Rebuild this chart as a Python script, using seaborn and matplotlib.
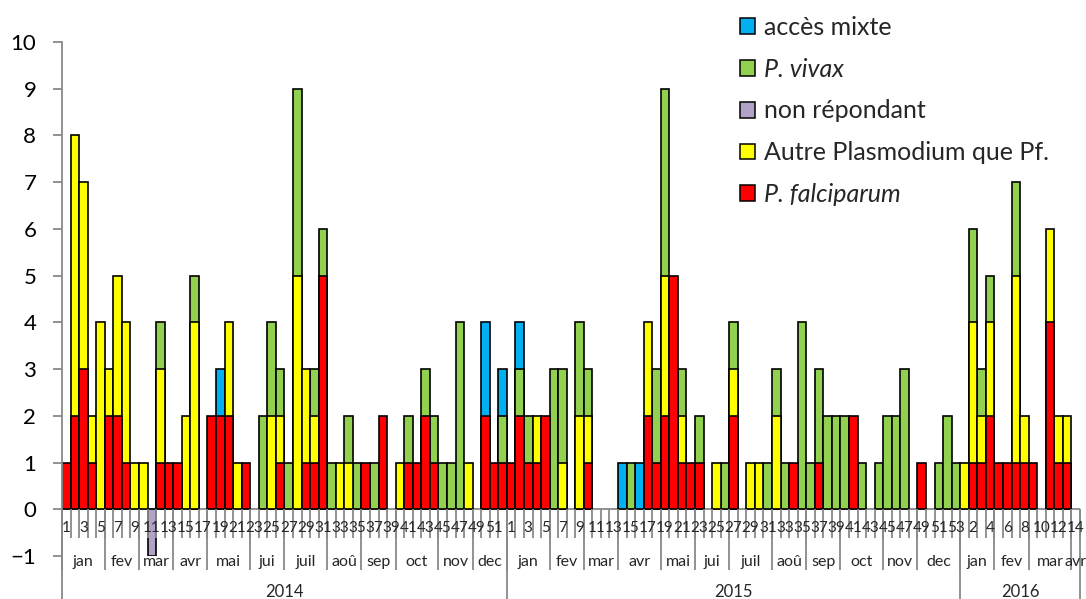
import numpy as np
import matplotlib
matplotlib.use('Agg')
import matplotlib.pyplot as plt
import seaborn as sns
from matplotlib.patches import Patch

# weekly counts: 2014 (52 weeks), 2015 (53 weeks), 2016 (14 weeks)
years = ['2014', '2015', '2016']
weeks_in_year = [52, 53, 14]
month_names = [
    ['jan', 'fev', 'mar', 'avr', 'mai', 'jui', 'juil', 'aoû', 'sep', 'oct', 'nov', 'dec'],
    ['jan', 'fev', 'mar', 'avr', 'mai', 'jui', 'juil', 'aoû', 'sep', 'oct', 'nov', 'dec'],
    ['jan', 'fev', 'mar', 'avr'],
]
month_weeks = [
    [5, 4, 4, 4, 5, 4, 5, 4, 4, 5, 4, 4],
    [5, 4, 4, 5, 4, 4, 5, 4, 4, 5, 4, 5],
    [4, 4, 5, 1],
]

falciparum = [
    1, 2, 3, 1, 0, 2, 2, 1, 0, 0, 0, 1, 1, 1, 0, 0, 0, 2, 2, 2, 0, 1, 0, 0, 0, 1,
    0, 0, 1, 1, 5, 0, 0, 0, 0, 1, 0, 2, 0, 0, 1, 1, 2, 1, 0, 0, 0, 0, 0, 2, 1, 1,
    1, 2, 1, 1, 2, 0, 0, 0, 0, 1, 0, 0, 0, 0, 0, 0, 2, 1, 2, 5, 1, 1, 1, 0, 0, 0,
    2, 0, 0, 0, 0, 0, 0, 1, 0, 0, 1, 0, 0, 0, 2, 0, 0, 0, 0, 0, 0, 0, 1, 0, 0, 0, 0,
    0, 1, 1, 2, 1, 1, 1, 1, 1, 0, 4, 1, 1, 0,
]
autre = [
    0, 6, 4, 1, 4, 1, 3, 3, 1, 1, 0, 2, 0, 0, 2, 4, 0, 0, 0, 2, 1, 0, 0, 0, 2, 1,
    0, 5, 2, 1, 0, 0, 1, 1, 0, 0, 0, 0, 0, 1, 0, 0, 0, 0, 0, 0, 0, 1, 0, 0, 0, 0,
    0, 0, 0, 1, 0, 0, 1, 0, 2, 1, 0, 0, 0, 0, 0, 0, 2, 0, 3, 0, 1, 0, 0, 0, 1, 0,
    1, 0, 1, 1, 0, 2, 0, 0, 0, 0, 0, 0, 0, 0, 0, 0, 0, 0, 0, 0, 0, 0, 0, 0, 0, 0, 0,
    1, 3, 1, 2, 0, 0, 4, 1, 0, 0, 2, 1, 1, 0,
]
vivax = [
    0, 0, 0, 0, 0, 0, 0, 0, 0, 0, 0, 1, 0, 0, 0, 1, 0, 0, 0, 0, 0, 0, 0, 2, 2, 1,
    1, 4, 0, 1, 1, 1, 0, 1, 1, 0, 1, 0, 0, 0, 1, 0, 1, 1, 1, 1, 4, 0, 0, 0, 0, 1,
    0, 1, 1, 0, 0, 3, 2, 0, 2, 1, 0, 0, 0, 0, 1, 0, 0, 2, 4, 0, 1, 0, 1, 0, 0, 1,
    1, 0, 0, 0, 1, 1, 1, 0, 4, 1, 2, 2, 2, 2, 0, 1, 0, 1, 2, 2, 3, 0, 0, 0, 1, 2, 1,
    0, 2, 1, 1, 0, 0, 2, 0, 0, 0, 0, 0, 0, 0,
]
mixte = [
    0, 0, 0, 0, 0, 0, 0, 0, 0, 0, 0, 0, 0, 0, 0, 0, 0, 0, 1, 0, 0, 0, 0, 0, 0, 0,
    0, 0, 0, 0, 0, 0, 0, 0, 0, 0, 0, 0, 0, 0, 0, 0, 0, 0, 0, 0, 0, 0, 0, 2, 0, 1,
    0, 1, 0, 0, 0, 0, 0, 0, 0, 0, 0, 0, 0, 1, 0, 1, 0, 0, 0, 0, 0, 0, 0, 0, 0, 0,
    0, 0, 0, 0, 0, 0, 0, 0, 0, 0, 0, 0, 0, 0, 0, 0, 0, 0, 0, 0, 0, 0, 0, 0, 0, 0, 0,
    0, 0, 0, 0, 0, 0, 0, 0, 0, 0, 0, 0, 0, 0,
]
non_repondant = [0] * 10 + [-1] + [0] * 108

labels = ['P. falciparum', 'Autre Plasmodium que Pf.', 'P. vivax', 'accès mixte']
colors = ['#FF0000', '#FFFF00', '#92D050', '#00B0F0']
purple = '#B3A2C7'
grey = '#898989'

sns.set_theme(style='white')
plt.rcParams['font.family'] = ['Lato', 'DejaVu Sans']

fig = plt.figure(figsize=(10.86, 5.99), dpi=100)
ax = fig.add_axes([62 / 1086, 1 - 556 / 599, (1080 - 62) / 1086, (556 - 42) / 599])

stack = np.array([falciparum, autre, vivax, mixte], dtype=float)
cum = stack.cumsum(axis=0)
n = stack.shape[1]
pos = list(range(n))

ax.axhline(0, color=grey, lw=1.3, zorder=0.5)

# draw stacked segments back to front (tallest cumulative first)
for k in range(3, -1, -1):
    top = np.where(stack[k] > 0, cum[k], np.nan)
    sns.barplot(x=pos, y=top, order=pos, color=colors[k], width=1, saturation=1,
                edgecolor='black', linewidth=1.2, errorbar=None, ax=ax)
nr = np.where(np.array(non_repondant) != 0, non_repondant, np.nan)
sns.barplot(x=pos, y=nr, order=pos, color=purple, width=1, saturation=1,
            edgecolor='black', linewidth=1.2, errorbar=None, ax=ax)

ax.set_xlim(-0.5, n - 0.5)
ax.set_ylim(-1, 10)
ax.set_xticks([])
ax.set_xlabel('')
ax.set_ylabel('')
ax.set_yticks(range(-1, 11))
for s in ['top', 'right', 'bottom']:
    ax.spines[s].set_visible(False)
ax.spines['left'].set_color(grey)
ax.spines['left'].set_linewidth(1.3)
ax.tick_params(axis='y', left=True, length=6.5, width=1.3, color=grey,
               labelsize=16, pad=12, labelcolor='black')

# multi-level category axis: weeks / months / years
bounds = np.arange(n + 1) - 0.5
ax.vlines(bounds, -0.62, 0, colors=grey, lw=1.3, clip_on=False)

week_nums = [w for ny in weeks_in_year for w in range(1, ny + 1)]
for i, w in enumerate(week_nums):
    if i % 2 == 0:
        ax.text(i, -0.41, str(w), ha='center', va='center', fontsize=11, zorder=5)

start = 0
for y, yname in enumerate(years):
    m_start = start
    for mname, mw in zip(month_names[y], month_weeks[y]):
        ax.vlines(m_start - 0.5, -1.31, 0, colors=grey, lw=1.3, clip_on=False)
        ax.text(m_start + mw / 2 - 0.5, -1.13, mname, ha='center', va='center', fontsize=11.5)
        m_start += mw
    ax.vlines(start - 0.5, -2.1, 0, colors=grey, lw=1.3, clip_on=False)
    ax.text(start + weeks_in_year[y] / 2 - 0.5, -1.78, yname, ha='center', va='center', fontsize=12)
    start += weeks_in_year[y]
ax.vlines(start - 0.5, -2.1, 0, colors=grey, lw=1.3, clip_on=False)

handles = [
    Patch(facecolor=colors[3], edgecolor='black', lw=1.1, label=labels[3]),
    Patch(facecolor=colors[2], edgecolor='black', lw=1.1, label=labels[2]),
    Patch(facecolor=purple, edgecolor='black', lw=1.1, label='non répondant'),
    Patch(facecolor=colors[1], edgecolor='black', lw=1.1, label=labels[1]),
    Patch(facecolor=colors[0], edgecolor='black', lw=1.1, label=labels[0]),
]
leg = fig.legend(handles=handles, loc='upper left', bbox_to_anchor=(740 / 1086, 1 - 16 / 599),
                 frameon=False, fontsize=18, handlelength=0.6, handleheight=0.6,
                 handletextpad=0.35, labelspacing=0.75, borderpad=0, borderaxespad=0)
for t in leg.get_texts():
    if t.get_text().startswith('P.'):
        t.set_fontstyle('italic')

fig.savefig('out.png', dpi=100)
